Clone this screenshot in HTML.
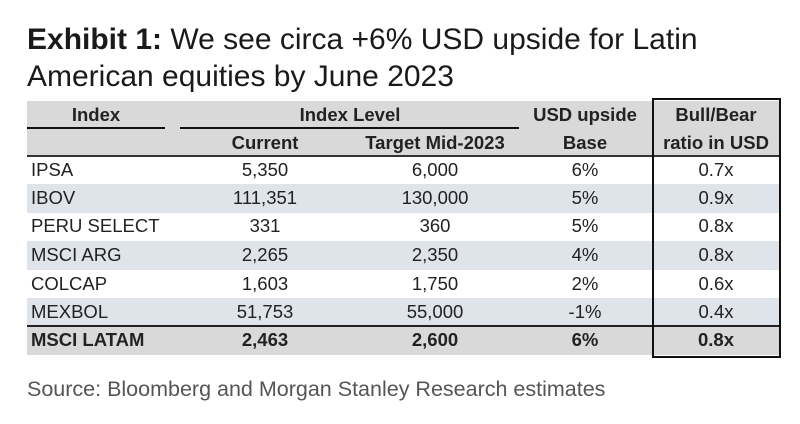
<!DOCTYPE html>
<html><head><meta charset="utf-8"><style>
body{margin:0;width:800px;height:424px;background:#fff;position:relative;overflow:hidden;font-family:"Liberation Sans",Arial,sans-serif;color:#222}
.t{position:absolute;white-space:nowrap}
.title{font-size:30px;color:#1a1a1a;left:27px}
.c{position:absolute;font-size:18.5px;white-space:nowrap;transform:translateX(-50%)}
.l{position:absolute;font-size:18.5px;white-space:nowrap;left:31px}
.b{font-weight:bold}
.row{position:absolute;left:27px;width:752px}
</style></head><body>
<div class="t title" style="top:23px"><b>Exhibit 1:</b> We see circa +6% USD upside for Latin</div>
<div class="t title" style="top:60px">American equities by June 2023</div>

<div class="row" style="top:101px;height:55px;background:#d9d9d9"></div>
<div class="row" style="top:184px;height:29px;background:#dfe3ea"></div>
<div class="row" style="top:241px;height:29px;background:#dfe3ea"></div>
<div class="row" style="top:298px;height:28px;background:#dfe3ea"></div>
<div class="row" style="top:326px;height:29px;background:#d9d9d9"></div>

<div style="position:absolute;left:27px;top:127px;width:138px;height:2px;background:#111"></div>
<div style="position:absolute;left:180px;top:127px;width:339px;height:2px;background:#111"></div>
<div style="position:absolute;left:27px;top:155px;width:752px;height:2px;background:#333"></div>
<div style="position:absolute;left:27px;top:325px;width:752px;height:2px;background:#222"></div>
<div style="position:absolute;left:652px;top:98px;width:125px;height:256px;border:2px solid #111"></div>

<div class="c b" style="left:96px;top:104px">Index</div>
<div class="c b" style="left:350px;top:104px">Index Level</div>
<div class="c b" style="left:585px;top:104px">USD upside</div>
<div class="c b" style="left:716px;top:104px">Bull/Bear</div>
<div class="c b" style="left:265px;top:132px">Current</div>
<div class="c b" style="left:435px;top:132px">Target Mid-2023</div>
<div class="c b" style="left:585px;top:132px">Base</div>
<div class="c b" style="left:716px;top:132px">ratio in USD</div>

<div id="body"></div>
<div class="t" style="left:27px;top:377px;font-size:21.5px;color:#555">Source: Bloomberg and Morgan Stanley Research estimates</div>
<script>
const names=["IPSA","IBOV","PERU SELECT","MSCI ARG","COLCAP","MEXBOL","MSCI LATAM"];
const current=["5,350","111,351","331","2,265","1,603","51,753","2,463"];
const target=["6,000","130,000","360","2,350","1,750","55,000","2,600"];
const upside=["6%","5%","5%","4%","2%","-1%","6%"];
const ratio=["0.7x","0.9x","0.8x","0.8x","0.6x","0.4x","0.8x"];
const body=document.getElementById('body');
const tops=[159,187,215,244,273,301,329];
names.forEach((n,i)=>{
 const bold=i===names.length-1?' b':'';
 const cells=[["l",null,n,"name"],["c",265,current[i],"current"],["c",435,target[i],"target"],["c",585,upside[i],"upside"],["c",716,ratio[i],"ratio"]];
 cells.forEach(c=>{
  const d=document.createElement('div');
  d.className=c[0]+bold;
  d.style.top=tops[i]+'px';
  if(c[1]!==null)d.style.left=c[1]+'px';
  d.textContent=c[2];
  
  
  body.appendChild(d);
 });
});
</script>
</body></html>
